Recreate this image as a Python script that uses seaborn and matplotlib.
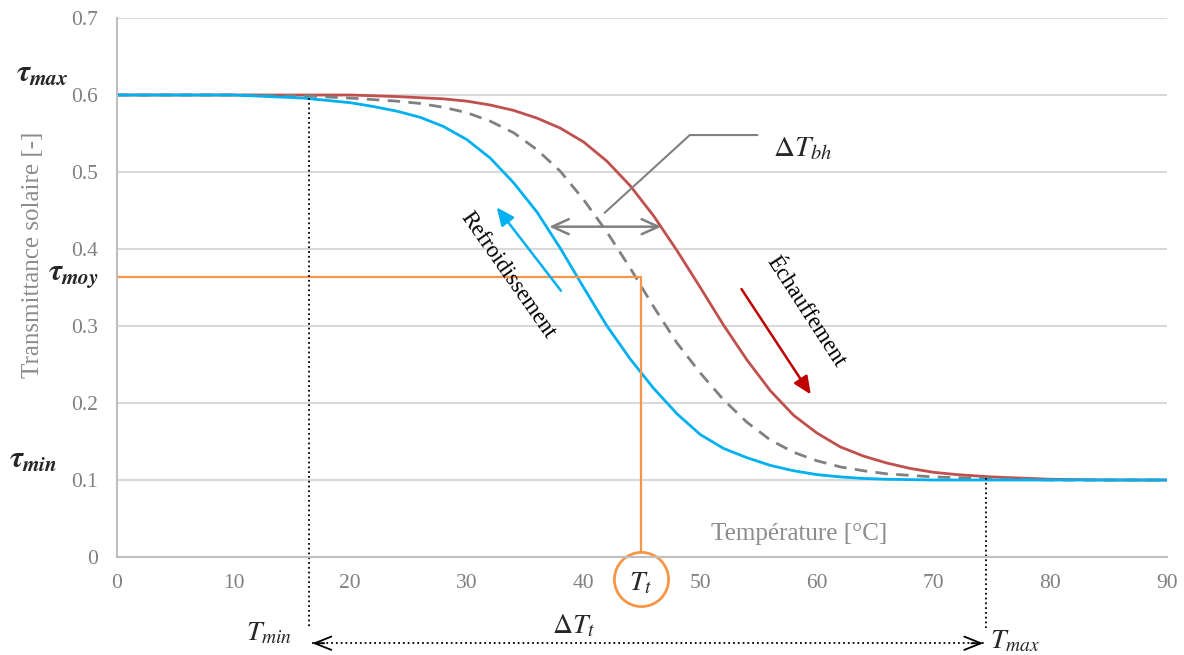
import matplotlib
matplotlib.use("Agg")
import matplotlib.pyplot as plt
import seaborn as sns

sns.set_theme(style="white")
plt.rcParams["font.family"] = ["Liberation Serif", "DejaVu Serif"]
plt.rcParams["mathtext.fontset"] = "custom"
plt.rcParams["mathtext.rm"] = "STIXGeneral"
plt.rcParams["mathtext.it"] = "STIXGeneral:italic"
plt.rcParams["mathtext.bf"] = "STIXGeneral:italic:bold"

## Data
temp_heat = [0, 10, 20, 24, 28, 30, 32, 34, 36, 38, 40, 42, 44, 46, 48, 50, 52, 54,
             56, 58, 60, 62, 64, 66, 68, 70, 72, 75, 80, 85, 90]
tau_heat = [0.600, 0.600, 0.600, 0.598, 0.595, 0.592, 0.587, 0.580, 0.570, 0.557,
            0.539, 0.514, 0.482, 0.443, 0.398, 0.350, 0.301, 0.256, 0.216, 0.184,
            0.161, 0.143, 0.131, 0.122, 0.115, 0.110, 0.107, 0.104, 0.101, 0.100, 0.100]

temp_mean = [0, 10, 16, 20, 22, 24, 26, 28, 30, 32, 34, 36, 38, 40, 42, 44, 46, 48,
             50, 52, 54, 56, 58, 60, 62, 64, 66, 68, 70, 72, 75, 80, 90]
tau_mean = [0.600, 0.600, 0.599, 0.596, 0.594, 0.592, 0.589, 0.584, 0.577, 0.566,
            0.551, 0.529, 0.501, 0.464, 0.422, 0.375, 0.325, 0.278, 0.239, 0.204,
            0.175, 0.152, 0.136, 0.125, 0.117, 0.112, 0.108, 0.106, 0.104, 0.103,
            0.102, 0.100, 0.100]

temp_cool = [0, 10, 16, 20, 22, 24, 26, 28, 30, 32, 34, 36, 38, 40, 42, 44, 46, 48,
             50, 52, 54, 56, 58, 60, 62, 64, 66, 68, 70, 80, 90]
tau_cool = [0.600, 0.600, 0.596, 0.590, 0.585, 0.579, 0.571, 0.559, 0.542, 0.518,
            0.486, 0.448, 0.401, 0.350, 0.300, 0.257, 0.219, 0.186, 0.159, 0.141,
            0.129, 0.119, 0.112, 0.107, 0.104, 0.102, 0.101, 0.1005, 0.100, 0.100, 0.100]

x_ticks = [0, 10, 20, 30, 40, 50, 60, 70, 80, 90]
y_ticks = [0, 0.1, 0.2, 0.3, 0.4, 0.5, 0.6, 0.7]
y_ticklabels = ["0", "0.1", "0.2", "0.3", "0.4", "0.5", "0.6", "0.7"]

tau_max, tau_min, tau_moy = 0.6, 0.1, 0.364
t_min, t_max, t_t = 16.5, 74.5, 44.9

## Colours
c_heat = "#C0504D"
c_cool = "#00B0F0"
c_mean = "#808080"
c_orange = "#F79646"
c_grid = "#D9D9D9"
c_text = "#8C8C8C"

fig = plt.figure(figsize=(11.84, 6.55), dpi=100)
ax = fig.add_axes([0.0988, 0.1496, 0.8868, 0.8229])

## Curves
sns.lineplot(x=temp_heat, y=tau_heat, ax=ax, color=c_heat, linewidth=2.0)
sns.lineplot(x=temp_mean, y=tau_mean, ax=ax, color=c_mean, linewidth=2.0,
             linestyle=(0, (4.5, 3)))
sns.lineplot(x=temp_cool, y=tau_cool, ax=ax, color=c_cool, linewidth=2.0)

## Axes style
ax.set_xlim(0, 90)
ax.set_ylim(0, 0.7)
ax.set_xticks(x_ticks)
ax.set_yticks(y_ticks)
ax.set_yticklabels(y_ticklabels)
ax.tick_params(axis="both", length=0, labelsize=15.5, labelcolor="#808080")
ax.tick_params(axis="y", pad=14)
ax.tick_params(axis="x", pad=12)
ax.yaxis.grid(True, color=c_grid, linewidth=1.5)
ax.set_axisbelow(True)
for side in ["top", "right"]:
    ax.spines[side].set_visible(False)
for side in ["left", "bottom"]:
    ax.spines[side].set_color("#BFBFBF")
    ax.spines[side].set_linewidth(1.5)
ax.set_xlabel("")
ax.set_ylabel("")

## Axis titles
ax.text(-0.080, 0.560, "Transmittance solaire [-]", transform=ax.transAxes,
        rotation=90, ha="center", va="center", fontsize=18, color=c_text)
ax.text(58.5, 0.03, "Température [°C]", ha="center", va="center",
        fontsize=18, color=c_text)

## Orange T_t / tau_moy construction
ax.plot([0, t_t], [tau_moy, tau_moy], color=c_orange, linewidth=1.6, clip_on=False)
ax.plot([t_t, t_t], [tau_moy, 0.007], color=c_orange, linewidth=1.6, clip_on=False)
ax.plot([t_t], [-0.028], marker="o", markersize=39, markerfacecolor="none",
        markeredgecolor=c_orange, markeredgewidth=2, clip_on=False)
ax.text(t_t, -0.034, r"$T_t$", ha="center", va="center", fontsize=20, clip_on=False)

## Dotted construction lines for T_min / T_max
ax.plot([t_min, t_min], [0.596, -0.094], color="black", linestyle=":", linewidth=1.3,
        clip_on=False)
ax.plot([t_max, t_max], [0.103, -0.092], color="black", linestyle=":", linewidth=1.3,
        clip_on=False)
ax.plot([t_min + 0.2, t_max - 0.2], [-0.112, -0.112], color="black", linestyle=":",
        linewidth=1.3, clip_on=False)
ax.annotate("", xy=(t_min, -0.112), xytext=(t_min + 1.5, -0.112),
            arrowprops=dict(arrowstyle="->,head_length=1.0,head_width=0.4",
                            color="black", linewidth=1.3),
            annotation_clip=False)
ax.annotate("", xy=(t_max, -0.112), xytext=(t_max - 1.5, -0.112),
            arrowprops=dict(arrowstyle="->,head_length=1.0,head_width=0.4",
                            color="black", linewidth=1.3),
            annotation_clip=False)
ax.text(13.0, -0.100, r"$T_{min}$", ha="center", va="center", fontsize=20)
ax.text(39.1, -0.090, r"$\Delta T_t$", ha="center", va="center", fontsize=20)
ax.text(77.0, -0.110, r"$T_{max}$", ha="center", va="center", fontsize=20)

## tau labels
ax.text(-6.4, 0.627, r"$\mathbf{\tau_{max}}$", ha="center", va="center", fontsize=22)
ax.text(-3.7, 0.365, r"$\mathbf{\tau_{moy}}$", ha="center", va="center", fontsize=22)
ax.text(-7.2, 0.125, r"$\mathbf{\tau_{min}}$", ha="center", va="center", fontsize=22)

## Hysteresis width arrow and callout
ax.annotate("", xy=(36.8, 0.429), xytext=(46.9, 0.429),
            arrowprops=dict(arrowstyle="<->,head_length=1.0,head_width=0.45",
                            color=c_mean, linewidth=1.8))
ax.plot([41.8, 49.1, 54.9], [0.447, 0.548, 0.548], color=c_mean, linewidth=1.5)
ax.text(56.2, 0.530, r"$\Delta T_{bh}$", ha="left", va="center", fontsize=21)

## Direction arrows
ax.annotate("", xy=(32.4, 0.457), xytext=(38.2, 0.343),
            arrowprops=dict(arrowstyle="-|>,head_length=0.9,head_width=0.4",
                            color=c_cool, linewidth=1.8))
ax.annotate("", xy=(59.6, 0.208), xytext=(53.4, 0.351),
            arrowprops=dict(arrowstyle="-|>,head_length=0.9,head_width=0.4",
                            color="#C00000", linewidth=1.8))
ax.text(33.5, 0.366, "Refroidissement", rotation=-55, rotation_mode="anchor",
        ha="center", va="center", fontsize=16.5, color="black")
ax.text(59.0, 0.319, "Échauffement", rotation=-57, rotation_mode="anchor",
        ha="center", va="center", fontsize=16.5, color="black")

plt.savefig("out.png", dpi=100)
plt.close()
